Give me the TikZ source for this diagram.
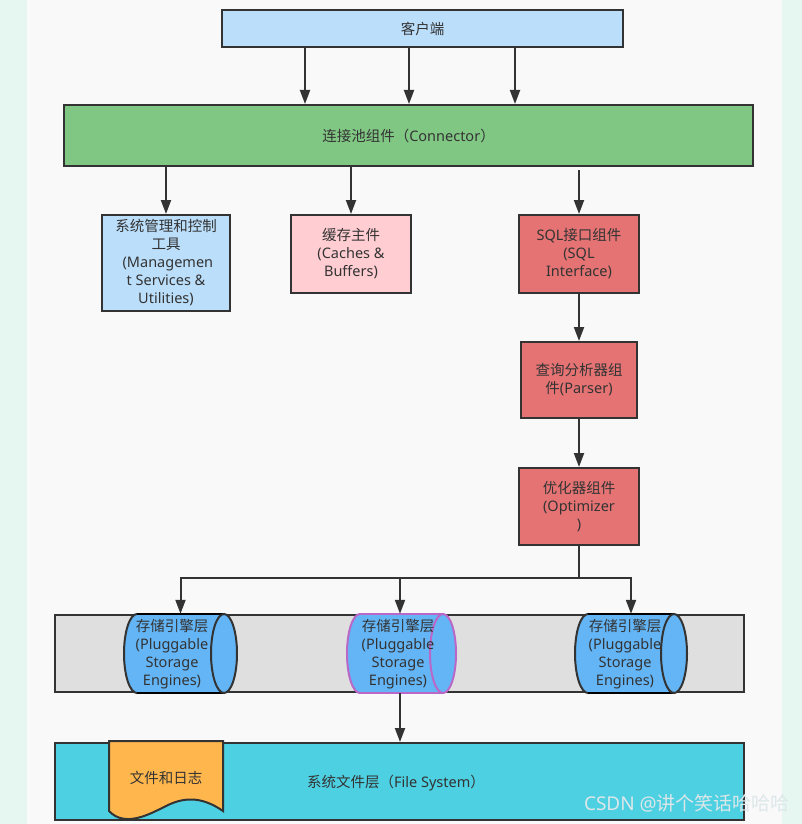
\documentclass[tikz,border=0pt]{standalone}
\usepackage{fontspec}
\setmainfont{Noto Sans}
\newfontfamily\cjkf{Noto Sans CJK SC}
\usetikzlibrary{arrows.meta}
\definecolor{mint}{HTML}{E6F7F1}
\definecolor{panel}{HTML}{F9F9F9}
\definecolor{stroke}{HTML}{333333}
\definecolor{txt}{HTML}{333333}
\definecolor{cblue}{HTML}{BBDEFB}
\definecolor{cgreen}{HTML}{81C784}
\definecolor{cpink}{HTML}{FFCDD2}
\definecolor{cred}{HTML}{E57373}
\definecolor{cgray}{HTML}{DFDFDF}
\definecolor{cylc}{HTML}{64B5F6}
\definecolor{cpurple}{HTML}{BA68C8}
\definecolor{ccyan}{HTML}{4DD0E1}
\definecolor{corange}{HTML}{FFB74D}
\definecolor{wmc}{HTML}{DCE7E9}
\newcommand\mycyl[3]{%
  \draw[fill=cylc, draw=#3, line width=2pt] (#1,653.5) ellipse[x radius=13, y radius=39.5];
  \fill[cylc] (#1,614) rectangle (#2,693);
  \draw[#3, line width=2pt] (#1,614) -- (#2,614) (#1,693) -- (#2,693);
  \draw[fill=cylc, draw=#3, line width=2pt] (#2,653.5) ellipse[x radius=13, y radius=39.5];
}
\begin{document}
\begin{tikzpicture}[x=1pt,y=-1pt,
  font=\fontsize{14.5}{18}\selectfont,
  every node/.style={text=txt},
  box/.style={draw=stroke,line width=2pt,align=center,inner sep=0pt},
  arr/.style={draw=stroke,line width=2pt,-{Triangle[length=14pt,width=10pt]}},
  plainline/.style={draw=stroke,line width=2pt},
  lbl/.style={align=center,inner sep=0pt}]
\useasboundingbox (0,0) rectangle (802,824);
\fill[mint] (0,0) rectangle (802,824);
\fill[panel] (27,0) rectangle (782,824);

\node[box, fill=cblue, minimum width=401pt, minimum height=37pt] (client) at (422.5,28.5) {{\cjkf 客户端}};
\node[box, fill=cgreen, minimum width=689pt, minimum height=61pt] (conn) at (408.5,135.5) {{\cjkf 连接池组件（}Connector{\cjkf ）}};
\foreach \x in {305,409,515} \draw[arr] (client.south -| \x,0) -- (conn.north -| \x,0);

\node[box, fill=cblue, minimum width=128pt, minimum height=96pt] (mgmt) at (166,263) {{\cjkf 系统管理和控制}\\{\cjkf 工具}\\ \ (Managemen\\t Services \&\\Utilities)};
\node[box, fill=cpink, minimum width=120pt, minimum height=78pt] (cache) at (351,254) {{\cjkf 缓存主件}\\(Caches \&\\Buffers)};
\node[box, fill=cred, minimum width=120pt, minimum height=78pt] (sqli) at (579,254) {SQL{\cjkf 接口组件}\\(SQL\\Interface)};
\node[box, fill=cred, minimum width=116pt, minimum height=76pt] (parser) at (579,380) {{\cjkf 查询分析器组}\\{\cjkf 件}(Parser)};
\node[box, fill=cred, minimum width=120pt, minimum height=77pt] (opt) at (579,506.5) {{\cjkf 优化器组件}\\(Optimizer\\)};

\draw[arr] (conn.south -| mgmt.north) -- (mgmt.north);
\draw[arr] (conn.south -| cache.north) -- (cache.north);
\draw[arr] ([yshift=-3pt]conn.south -| sqli.north) -- (sqli.north);
\draw[arr] (sqli.south) -- (parser.north);
\draw[arr] (parser.south) -- (opt.north);

\node[box, fill=cgray, minimum width=689pt, minimum height=77pt] (band) at (399.5,653.5) {};
\mycyl{137}{224}{stroke}
\mycyl{360}{443}{cpurple}
\mycyl{588}{674}{stroke}
\node[inner sep=0pt, minimum width=113pt, minimum height=79pt] (cyl1) at (180.5,653.5) {};
\node[inner sep=0pt, minimum width=109pt, minimum height=79pt] (cyl2) at (400,653.5) {};
\node[inner sep=0pt, minimum width=112pt, minimum height=79pt] (cyl3) at (631,653.5) {};
\node[lbl] (t1) at (172,654) {{\cjkf 存储引擎层}\\(Pluggable\\Storage\\Engines)};
\node[lbl] (t2) at (398,654) {{\cjkf 存储引擎层}\\(Pluggable\\Storage\\Engines)};
\node[lbl] (t3) at (625,654) {{\cjkf 存储引擎层}\\(Pluggable\\Storage\\Engines)};

\coordinate (j) at (579,578);
\draw[plainline] (opt.south) -- (j);
\draw[arr] (j) -| (cyl1.north);
\draw[arr] (j) -| (cyl3.north);
\draw[arr] (cyl2.north |- j) -- (cyl2.north);

\node[box, fill=ccyan, minimum width=689pt, minimum height=77pt] (fs) at (399.5,781.5) {};
\node[lbl] (fst) at (396,783) {{\cjkf 系统文件层（}File System{\cjkf ）}};
\draw[arr] (cyl2.south) -- (cyl2.south |- fs.north);

\draw[fill=corange, draw=stroke, line width=2pt] (109,741) -- (223,741) -- (223,811)
  .. controls (200,795) and (182,798) .. (166,806)
  .. controls (150,814) and (125,828) .. (109,811) -- cycle;
\node[lbl] (doc) at (166,778) {{\cjkf 文件和日志}};

\node[anchor=east, inner sep=0pt, text=wmc, font=\fontsize{19}{19}\selectfont] (wm) at (790,803) {CSDN @{\cjkf 讲个笑话哈哈哈}};
\end{tikzpicture}
\end{document}
